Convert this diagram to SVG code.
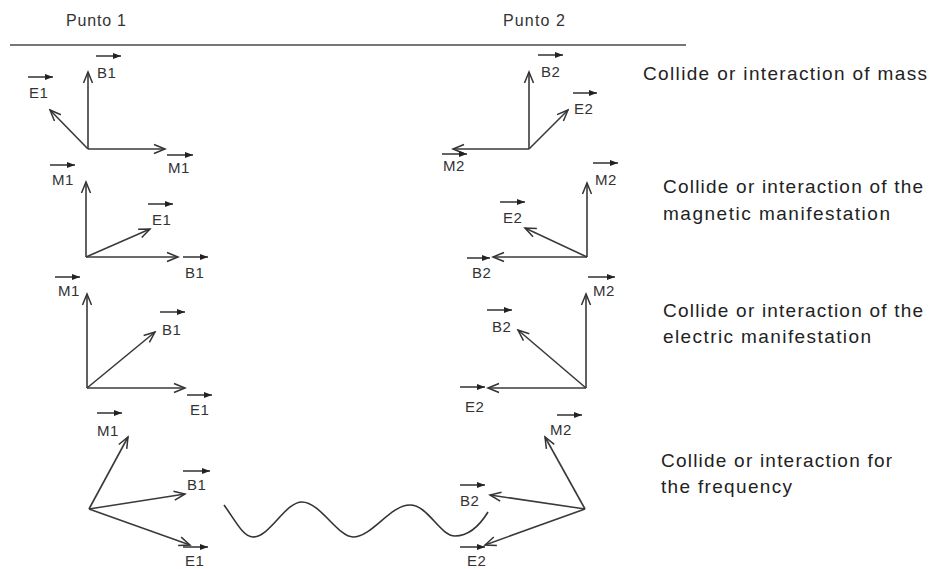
<svg xmlns="http://www.w3.org/2000/svg" width="930" height="569" viewBox="0 0 930 569">
<defs>
<marker id="open" markerUnits="userSpaceOnUse" markerWidth="14" markerHeight="12" viewBox="0 0 14 12" refX="12" refY="6" orient="auto">
<path d="M1,1.5 L12,6 L1,10.5" fill="none" stroke="#333" stroke-width="1.5"/>
</marker>
<marker id="small" markerUnits="userSpaceOnUse" markerWidth="8" markerHeight="6" viewBox="0 0 8 6" refX="8" refY="3" orient="auto">
<path d="M0,0 L8,3 L0,6 Z" fill="#222"/>
</marker>
<style>
.vec{stroke:#3a3a3a;stroke-width:1.6;fill:none;marker-end:url(#open)}
.bar{stroke:#222;stroke-width:1.4;marker-end:url(#small)}
.lbl{font-family:"Liberation Sans",Arial,sans-serif;font-size:15px;fill:#333;letter-spacing:0.5px}
.cap{font-family:"Liberation Sans",Arial,sans-serif;font-size:19px;fill:#222}
.hdr{font-family:"Liberation Sans",Arial,sans-serif;font-size:16px;fill:#333}
</style>
</defs>
<rect width="930" height="569" fill="#fff"/>
<g id="header">
<text class="hdr" x="66" y="26" textLength="60" lengthAdjust="spacing">Punto 1</text>
<text class="hdr" x="503" y="26" textLength="62" lengthAdjust="spacing">Punto 2</text>
<line x1="10" y1="45" x2="686" y2="45" stroke="#777" stroke-width="2"/>
</g>
<g id="connectors">
<path class="vec" d="M88,149 L88,72"/>
<path class="vec" d="M88,149 L50,110"/>
<path class="vec" d="M88,149 L165,149"/>
<path class="vec" d="M529,149 L529,72"/>
<path class="vec" d="M529,149 L568,110"/>
<path class="vec" d="M529,149 L453,149"/>
<path class="vec" d="M86,257 L86,182"/>
<path class="vec" d="M86,257 L150,229"/>
<path class="vec" d="M86,257 L178,257"/>
<path class="vec" d="M587,257 L587,183"/>
<path class="vec" d="M587,257 L525,228"/>
<path class="vec" d="M587,257 L493,257"/>
<path class="vec" d="M87,388 L87,294"/>
<path class="vec" d="M87,388 L155,332"/>
<path class="vec" d="M87,388 L185,388"/>
<path class="vec" d="M586,388 L586,294"/>
<path class="vec" d="M586,388 L518,330"/>
<path class="vec" d="M586,388 L488,388"/>
<path class="vec" d="M89,509 L128,437"/>
<path class="vec" d="M89,509 L185,494"/>
<path class="vec" d="M89,509 L190,545"/>
<path class="vec" d="M585,509 L545,437"/>
<path class="vec" d="M585,509 L490,495"/>
<path class="vec" d="M585,509 L485,545"/>
<path id="wave" d="M224,505 C235,520 243,537 253,537 C270,537 285,502 302,502 C320,502 338,537 353,537 C372,537 390,505 410,505 C428,505 440,536 455,536 C470,536 480,525 488,512" fill="none" stroke="#333" stroke-width="1.6"/>
</g>
<g id="labels">
<g id="g1-left">
<line class="bar" x1="96" y1="56" x2="121" y2="56"/><text class="lbl" x="97" y="78">B1</text>
<line class="bar" x1="28" y1="77" x2="53" y2="77"/><text class="lbl" x="29" y="98">E1</text>
<line class="bar" x1="167" y1="155" x2="193" y2="155"/><text class="lbl" x="168" y="173">M1</text>
</g>
<g id="g1-right">
<line class="bar" x1="538" y1="55" x2="563" y2="55"/><text class="lbl" x="541" y="77">B2</text>
<line class="bar" x1="573" y1="93" x2="597" y2="93"/><text class="lbl" x="574" y="114">E2</text>
<line class="bar" x1="442" y1="154" x2="467" y2="154"/><text class="lbl" x="443" y="171">M2</text>
</g>
<g id="g2-left">
<line class="bar" x1="50" y1="165" x2="75" y2="165"/><text class="lbl" x="52" y="185">M1</text>
<line class="bar" x1="148" y1="204" x2="173" y2="204"/><text class="lbl" x="152" y="225">E1</text>
<line class="bar" x1="183" y1="257" x2="208" y2="257"/><text class="lbl" x="185" y="278">B1</text>
</g>
<g id="g2-right">
<line class="bar" x1="593" y1="163" x2="618" y2="163"/><text class="lbl" x="595" y="185">M2</text>
<line class="bar" x1="500" y1="202" x2="525" y2="202"/><text class="lbl" x="503" y="223">E2</text>
<line class="bar" x1="467" y1="258" x2="490" y2="258"/><text class="lbl" x="472" y="278">B2</text>
</g>
<g id="g3-left">
<line class="bar" x1="55" y1="277" x2="80" y2="277"/><text class="lbl" x="58" y="296">M1</text>
<line class="bar" x1="160" y1="312" x2="185" y2="312"/><text class="lbl" x="162" y="335">B1</text>
<line class="bar" x1="187" y1="395" x2="212" y2="395"/><text class="lbl" x="190" y="415">E1</text>
</g>
<g id="g3-right">
<line class="bar" x1="588" y1="277" x2="615" y2="277"/><text class="lbl" x="593" y="296">M2</text>
<line class="bar" x1="487" y1="310" x2="512" y2="310"/><text class="lbl" x="492" y="332">B2</text>
<line class="bar" x1="460" y1="387" x2="485" y2="387"/><text class="lbl" x="465" y="412">E2</text>
</g>
<g id="g4-left">
<line class="bar" x1="97" y1="413" x2="122" y2="413"/><text class="lbl" x="97" y="436">M1</text>
<line class="bar" x1="183" y1="471" x2="210" y2="471"/><text class="lbl" x="187" y="490">B1</text>
<line class="bar" x1="183" y1="547" x2="208" y2="547"/><text class="lbl" x="185" y="566">E1</text>
</g>
<g id="g4-right">
<line class="bar" x1="557" y1="415" x2="582" y2="415"/><text class="lbl" x="550" y="435">M2</text>
<line class="bar" x1="460" y1="485" x2="485" y2="485"/><text class="lbl" x="460" y="506">B2</text>
<line class="bar" x1="460" y1="547" x2="485" y2="547"/><text class="lbl" x="467" y="566">E2</text>
</g>
</g>
<g id="captions">
<text class="cap" x="643" y="80" textLength="284" lengthAdjust="spacing">Collide or interaction of mass</text>
<text class="cap" x="663" y="193" textLength="260" lengthAdjust="spacing">Collide or interaction of the</text>
<text class="cap" x="663" y="220" textLength="227" lengthAdjust="spacing">magnetic manifestation</text>
<text class="cap" x="663" y="317" textLength="260" lengthAdjust="spacing">Collide or interaction of the</text>
<text class="cap" x="663" y="343" textLength="208" lengthAdjust="spacing">electric manifestation</text>
<text class="cap" x="661" y="467" textLength="231" lengthAdjust="spacing">Collide or interaction for</text>
<text class="cap" x="661" y="493" textLength="131" lengthAdjust="spacing">the frequency</text>
</g>
</svg>
